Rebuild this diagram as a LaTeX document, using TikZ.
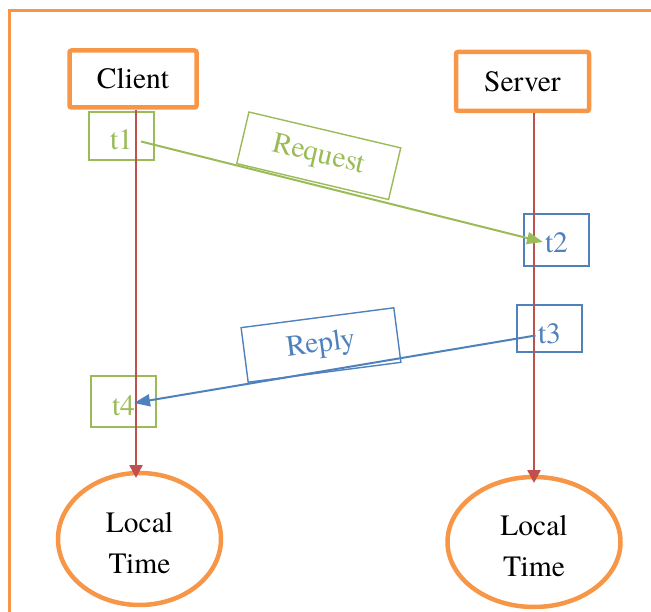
\documentclass[tikz,border=0pt]{standalone}
\usepackage{fontspec}
\setmainfont{texgyretermes}[Extension=.otf, UprightFont=*-regular, BoldFont=*-bold, ItalicFont=*-italic, BoldItalicFont=*-bolditalic]
\usetikzlibrary{arrows.meta,shapes.geometric}
\definecolor{frameorange}{HTML}{F79646}
\definecolor{msggreen}{HTML}{9BBB59}
\definecolor{msgblue}{HTML}{4F81BD}
\definecolor{lifered}{HTML}{C0504D}

\begin{document}
\begin{tikzpicture}[x=1pt,y=-1pt,
  every node/.style={font=\rmfamily\fontsize{29.5}{41}\selectfont, inner sep=0pt},
  actor/.style={draw=frameorange, line width=4.5pt, rounded corners=2pt, minimum height=57pt},
  stamp/.style={draw=#1, text=#1, line width=1.4pt, minimum width=65pt, text depth=0pt},
  msglabel/.style={draw=#1, text=#1, line width=1.4pt, minimum width=154pt, minimum height=53pt},
  clock/.style={ellipse, draw=frameorange, line width=4.5pt, align=center},
  lifeline/.style={draw=lifered, line width=2.4pt, -{Triangle[length=13pt,width=13pt]}},
  msg/.style={draw=#1, line width=2pt, -{Triangle[length=16pt,width=12pt]}}
]
\clip (0,0) rectangle (651,612);

% outer frame
\draw[frameorange, line width=3pt] (9.5,10.5) rectangle (700,700);

% the two parties
\node[actor, minimum width=127pt] (client) at (133,79) {Client};
\node[actor, minimum width=133pt, minimum height=59pt] (server) at (522.5,81.5) {Server};

% local clocks
\node[clock, minimum width=163pt, minimum height=132pt] (clientclock) at (139.5,539)
  {\rule{0pt}{29pt}Local\\Time};
\node[clock, minimum width=173pt, minimum height=130pt] (serverclock) at (534,542)
  {\rule{0pt}{29pt}Local\\Time};

% time stamps
\node[stamp=msggreen, minimum height=48pt, text height=28pt] (t1) at (121.5,136) {t1};
\node[stamp=msgblue, minimum height=52pt, text height=26pt] (t2) at (556.5,240) {t2};
\node[stamp=msgblue, minimum height=47pt, text height=31pt] (t3) at (549.5,328.5) {t3};
\node[stamp=msggreen, minimum height=51pt, text height=28pt] (t4) at (123.5,401.5) {t4};

% time lines
\coordinate (ctip) at (136,478);
\coordinate (stip) at (534,483);
\draw[lifeline] (client.south -| ctip) -- (ctip);
\draw[lifeline] (server.south -| stip) -- (stip);

% messages
\coordinate (reqfrom) at (141,141.5);
\coordinate (reqto) at (543,242);
\coordinate (repfrom) at (535.5,335.5);
\coordinate (repto) at (134,403);
\draw[msg=msggreen] (reqfrom) -- (reqto);
\draw[msg=msgblue] (repfrom) -- (repto);

% message labels
\node[msglabel=msggreen, minimum width=156pt, rotate=-13.3] (request) at (318.75,155.75) {Request};
\node[msglabel=msgblue, minimum height=55pt, rotate=7.4] (reply) at (321,345) {Reply};
\end{tikzpicture}
\end{document}
